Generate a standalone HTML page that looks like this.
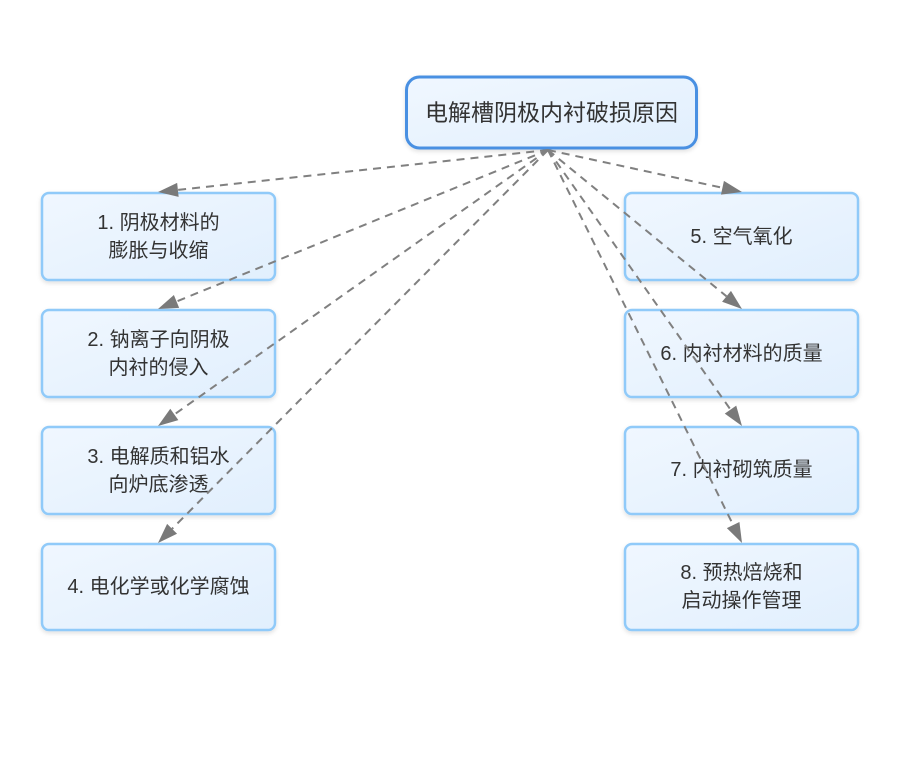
<!DOCTYPE html>
<html>
<head>
<meta charset="utf-8">
<style>
  html, body { margin: 0; padding: 0; background: #ffffff; }
  body { width: 924px; height: 780px; overflow: hidden; }
  svg { display: block; }
  text { font-family: "Liberation Sans", "Noto Sans CJK SC", sans-serif; fill: #333333; }
</style>
</head>
<body>
<svg width="924" height="780" viewBox="0 0 924 780" xmlns="http://www.w3.org/2000/svg">
  <defs>
    <linearGradient id="ng" x1="0" y1="0" x2="1" y2="1">
      <stop offset="0" stop-color="#f0f7ff"/>
      <stop offset="1" stop-color="#e1effd"/>
    </linearGradient>
    <filter id="sh" x="-10%" y="-10%" width="120%" height="130%">
      <feDropShadow dx="0" dy="2" stdDeviation="2" flood-color="#000" flood-opacity="0.12"/>
    </filter>
  </defs>

  <!-- Main node -->
  <rect x="406.5" y="77" width="290" height="71" rx="13" ry="13" fill="url(#ng)" stroke="#4a90e2" stroke-width="3" filter="url(#sh)"/>
  <text x="551.5" y="112.5" font-size="23" text-anchor="middle" dominant-baseline="central">电解槽阴极内衬破损原因</text>

  <!-- Left nodes -->
  <g fill="url(#ng)" stroke="#90caf9" stroke-width="2.5" filter="url(#sh)">
    <rect x="42" y="193" width="233" height="87" rx="7" ry="7"/>
    <rect x="42" y="310" width="233" height="87" rx="7" ry="7"/>
    <rect x="42" y="427" width="233" height="87" rx="7" ry="7"/>
    <rect x="42" y="544" width="233" height="86" rx="7" ry="7"/>
    <rect x="625" y="193" width="233" height="87" rx="7" ry="7"/>
    <rect x="625" y="310" width="233" height="87" rx="7" ry="7"/>
    <rect x="625" y="427" width="233" height="87" rx="7" ry="7"/>
    <rect x="625" y="544" width="233" height="86" rx="7" ry="7"/>
  </g>

  <g font-size="20" text-anchor="middle">
    <text x="158.5" y="223" dominant-baseline="central">1. 阴极材料的</text>
    <text x="158.5" y="251" dominant-baseline="central">膨胀与收缩</text>

    <text x="158.5" y="340" dominant-baseline="central">2. 钠离子向阴极</text>
    <text x="158.5" y="368" dominant-baseline="central">内衬的侵入</text>

    <text x="158.5" y="457" dominant-baseline="central">3. 电解质和铝水</text>
    <text x="158.5" y="485" dominant-baseline="central">向炉底渗透</text>

    <text x="158.5" y="587" dominant-baseline="central">4. 电化学或化学腐蚀</text>

    <text x="741.5" y="237" dominant-baseline="central">5. 空气氧化</text>
    <text x="741.5" y="354" dominant-baseline="central">6. 内衬材料的质量</text>
    <text x="741.5" y="470" dominant-baseline="central">7. 内衬砌筑质量</text>

    <text x="741.5" y="573" dominant-baseline="central">8. 预热焙烧和</text>
    <text x="741.5" y="601" dominant-baseline="central">启动操作管理</text>
  </g>

  <!-- Edges -->
  <g stroke="#808080" stroke-width="2" stroke-dasharray="8,6" fill="none">
    <line x1="548" y1="150" x2="177.9" y2="189.9"/>
    <line x1="548" y1="150" x2="176.5" y2="301.5"/>
    <line x1="548" y1="150" x2="174.3" y2="414.5"/>
    <line x1="548" y1="150" x2="172.1" y2="528.8"/>
    <line x1="548" y1="150" x2="722.5" y2="187.8"/>
    <line x1="548" y1="150" x2="726.5" y2="296.3"/>
    <line x1="548" y1="150" x2="730.5" y2="409.6"/>
    <line x1="548" y1="150" x2="733.2" y2="525.1"/>
  </g>

  <!-- Arrowheads -->
  <g fill="#7a7a7a" stroke="none">
    <polygon points="158,192 177.14,182.90 178.64,196.82"/>
    <polygon points="158,309 173.88,294.97 179.16,307.93"/>
    <polygon points="158,426 170.29,408.74 178.37,420.16"/>
    <polygon points="158,543 167.12,523.87 177.06,533.73"/>
    <polygon points="742,192 720.97,194.61 723.93,180.93"/>
    <polygon points="742,309 722.09,301.73 730.97,290.91"/>
    <polygon points="742,426 724.77,413.67 736.23,405.61"/>
    <polygon points="742,543 726.87,528.17 739.43,521.97"/>
  </g>
</svg>
</body>
</html>
